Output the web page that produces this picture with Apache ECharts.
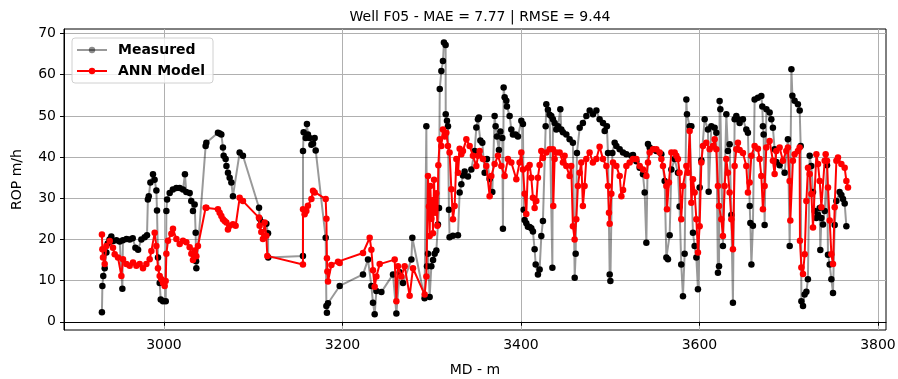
<!DOCTYPE html>
<html>
<head>
<meta charset="utf-8">
<script src="https://cdn.jsdelivr.net/npm/echarts@6/dist/echarts.min.js"></script>
<style>
  html, body { margin: 0; padding: 0; background: #fff; }
  #chart { width: 898px; height: 379px; }
</style>
</head>
<body>
<div id="chart"></div>
<script>
const mdMeasured = [
  2930.5, 2931, 2932, 2933.6, 2935.5, 2937, 2939, 2941, 2943, 2946.7, 2950.4, 2953.4, 2954, 2958, 2961.6, 2965, 2968, 2971, 2974.7, 2978.4,
  2981, 2982, 2983, 2984.8, 2987.7, 2989.5, 2991.5, 2992.2, 2993.3, 2995.2, 2996.4, 2998.9, 3002, 3002.7, 3003.5, 3006.4, 3010, 3013.9, 3017.6, 3021.3,
  3023.5, 3025, 3028.8, 3030.6, 3032.5, 3034.4, 3035.5, 3036, 3036.3, 3046.7, 3047.5, 3060.5, 3062.4, 3064.3, 3066.1, 3066.9, 3069.1, 3070, 3071.7, 3073.6,
  3075.5, 3077.3, 3084.8, 3088.5, 3106.5, 3107.2, 3109, 3114.7, 3116.6, 3116.8, 3155.7, 3155.8, 3156.5, 3158.8, 3160.2, 3161.3, 3163.2, 3165.2, 3167, 3168.8,
  3170, 3181.2, 3182, 3182.6, 3183.8, 3196.9, 3223, 3228.6, 3232.4, 3234.2, 3236.1, 3238, 3243.6, 3256.6, 3260.4, 3264.1, 3267.8, 3277.2, 3278.3, 3292,
  3294, 3294.7, 3295.8, 3297.7, 3299.6, 3301.5, 3303.3, 3305.2, 3307, 3308.2, 3309, 3310.8, 3312.6, 3313.7, 3315.6, 3315.7, 3317.1, 3318.2, 3319.3, 3320,
  3323.8, 3329.4, 3331.3, 3333.2, 3335, 3336.9, 3340.6, 3344.4, 3348.1, 3350, 3351.8, 3352.9, 3354.5, 3356.7, 3359.3, 3361.9, 3364.9, 3367.9, 3370.5, 3371.6,
  3373.1, 3375.3, 3376.9, 3379.1, 3379.8, 3380.6, 3381.7, 3383.6, 3384.3, 3387.3, 3389.2, 3391, 3394, 3396.6, 3400.4, 3402.2, 3403, 3404.1, 3406, 3407.8,
  3409.7, 3411.6, 3413.4, 3415.3, 3416.5, 3419, 3420.9, 3422.8, 3424.6, 3427.7, 3428.4, 3430.2, 3432.1, 3434, 3435.2, 3435.8, 3437.7, 3439.6, 3441.5, 3444.1,
  3445.2, 3447, 3450.8, 3454.5, 3458.2, 3460.2, 3461.3, 3462.7, 3465.8, 3469.4, 3473.3, 3477, 3480.7, 3484.5, 3488.1, 3491.9, 3493.8, 3496.3, 3497.5, 3499.4,
  3500.2, 3502.4, 3505, 3506.9, 3510.6, 3514.3, 3518.1, 3523.7, 3525.5, 3529.3, 3533, 3536.7, 3538.6, 3540.5, 3542.3, 3544.2, 3547.9, 3551.7, 3557.3, 3561,
  3562.9, 3564.7, 3566.6, 3568.5, 3572.2, 3575.9, 3577.7, 3579.6, 3581.5, 3583.4, 3585.3, 3586, 3589, 3590.9, 3592.7, 3594.6, 3596.5, 3598.3, 3600.2, 3602.1,
  3605.8, 3609.5, 3610.3, 3613.3, 3617, 3618.9, 3620.7, 3621.9, 3622.6, 3623.4, 3626.3, 3630.1, 3631.9, 3633.8, 3635.7, 3637.5, 3639.4, 3641.3, 3643.1, 3645,
  3648.7, 3652.5, 3654.3, 3656.3, 3657, 3658.2, 3659.9, 3661.8, 3665.5, 3669.3, 3670.4, 3671.1, 3671.9, 3673, 3675, 3678.6, 3680.5, 3682.3, 3684.2, 3686.1,
  3689.8, 3695.4, 3699.1, 3701.1, 3703, 3704.1, 3706.6, 3710.3, 3712.3, 3713.4, 3714.2, 3716, 3717.8, 3719.8, 3721.5, 3723.5, 3725.3, 3727.2, 3729.1, 3730.9,
  3732.8, 3734.7, 3735.4, 3736.6, 3738.4, 3740.3, 3742.9, 3744, 3745.9, 3747.8, 3749.6, 3751.5, 3753.4, 3757, 3759, 3760.8, 3762.7, 3764.6
];
const ropMeasured = [
  2.3, 8.7, 11.1, 13, 16.8, 19, 20, 20.7, 19.6, 19.8, 19.5, 8.0, 19.8, 20.1, 20, 20.3, 18, 17.5, 20, 20.5,
  21, 29.7, 30.5, 33.8, 35.8, 34.5, 31.9, 27, 15.6, 9.4, 5.4, 5.0, 5.0, 26.9, 29.7, 31.3, 32.1, 32.5, 32.5, 32.1,
  35.8, 31.5, 31.3, 29.3, 26.9, 28.5, 21.6, 14.7, 13, 42.7, 43.5, 45.9, 45.7, 45.5, 42.3, 40.3, 39.5, 37.8, 36.2, 35,
  33.8, 30.5, 41.1, 40.3, 27.7, 25, 24.2, 23.8, 21.5, 15.6, 16, 41.5, 46, 44.6, 48, 45.5, 44.6, 43, 43.3, 44.6,
  41.6, 20.4, 3.8, 2.2, 4.5, 8.7, 11.5, 15.1, 8.7, 4.6, 1.8, 7.5, 7.2, 11.5, 2.0, 12, 9.4, 15.1, 20.4, 5.7,
  47.5, 13.5, 16.5, 6, 13.5, 15, 16.5, 17.3, 23.6, 27.6, 56.5, 60.9, 63.3, 67.8, 67.2, 50.4, 48.8, 47.5, 27.2, 20.5,
  20.9, 21, 31.4, 33.4, 35.5, 36.5, 35.3, 37, 41.5, 47.2, 49.2, 49.6, 44, 43.5, 36.2, 39.5, 34.7, 31.5, 50, 47.5,
  45, 41.7, 46.2, 44.6, 22.6, 56.9, 54.5, 53.7, 52.3, 50, 46.7, 45.5, 45.5, 45, 48.8, 48, 27.2, 24.7, 23.9, 23.1,
  23, 22.7, 21.9, 17.6, 13.9, 11.5, 12.7, 20.8, 24.5, 47.5, 52.8, 51.5, 50.3, 50, 13.1, 49.2, 48.3, 46.7, 47.5, 51.6,
  46.7, 46, 45.5, 44.3, 43.5, 10.7, 16.5, 41, 47.1, 48.3, 50, 51.3, 50.4, 51.3, 49.2, 48.3, 46.3, 47.5, 41, 11.5,
  9.9, 41, 43.5, 42.7, 41.9, 41.1, 40.7, 40.3, 40.5, 39, 37.4, 35.8, 31.4, 19.2, 43.2, 42.3, 41.9, 41.5, 40.7, 34.2,
  15.6, 15.2, 21, 37, 39.5, 36.2, 28, 13.9, 6.2, 16.5, 54, 50.4, 47.5, 47.5, 21.6, 18.4, 15.6, 7.9, 32.6, 39.2,
  49.2, 46.7, 31.6, 47.5, 47.1, 45.9, 11.9, 13.5, 53.6, 51.6, 18.4, 50.4, 41.5, 43.1, 25.9, 4.6, 49.2, 50, 49.2, 48.3,
  49.2, 46.7, 45.9, 28.1, 24, 13.9, 23.3, 54, 54.4, 54.8, 52.3, 47.5, 45.5, 23.5, 51.6, 50.8, 49.2, 47.1, 41.9, 38.8,
  38, 36.2, 44.3, 18.4, 61.3, 54.9, 53.7, 52.8, 51.3, 42.7, 5, 3.8, 6.6, 7.3, 10.3, 40.3, 37.8, 31.5, 26.9, 25.2,
  26, 27.6, 17.4, 25.2, 23.6, 26.9, 38, 16.3, 13.9, 10.3, 7, 23.5, 29.3, 31.5, 30.8, 29.8, 28.7, 23.2
];

const mdModel = [
  2930.5, 2931, 2931.7, 2933.6, 2935.5, 2939.2, 2942.9, 2944.8, 2948.5, 2952.3, 2954.1, 2957.9, 2961.6, 2965.3, 2969.1, 2972.8, 2976.5, 2980.3, 2984, 2985.9,
  2989.6, 2991.5, 2993.3, 2995.2, 2997.1, 2998.9, 3000.8, 3001.9, 3002.7, 3004.5, 3008.3, 3010.1, 3013.9, 3017.6, 3021.3, 3025.1, 3028.8, 3030.7, 3032.5, 3034.4,
  3036.3, 3038.1, 3046.7, 3047.5, 3060.5, 3062.4, 3064.3, 3066.1, 3068, 3069.9, 3071.7, 3073.6, 3077.3, 3080.3, 3084.8, 3088.5, 3106.4, 3107.2, 3109.1, 3110.9,
  3112.8, 3114.7, 3115.8, 3155.7, 3155.8, 3157.6, 3159.5, 3161.3, 3165.2, 3167, 3168.8, 3181.2, 3182, 3182.6, 3183.1, 3183.8, 3187.6, 3195, 3196.9, 3223,
  3230.5, 3232.4, 3234.2, 3236.1, 3238, 3241.7, 3258.5, 3260.4, 3262.2, 3266, 3269.7, 3275.3, 3279, 3292.1, 3294, 3295.8, 3296.9, 3297.7, 3298.5, 3299.6,
  3300.7, 3301.4, 3302.6, 3303.7, 3305.2, 3306.3, 3307.4, 3309, 3310.8, 3312.6, 3314.5, 3316.4, 3318.2, 3320, 3322, 3323.8, 3325.7, 3327.6, 3329.5, 3331.3,
  3333.2, 3335, 3338.8, 3342.5, 3346.2, 3350, 3351.8, 3353.7, 3357.4, 3361.2, 3364.9, 3366.8, 3370.5, 3374.2, 3378, 3381.7, 3385.4, 3389.2, 3394.8, 3398.5,
  3400.4, 3402.2, 3404.1, 3406, 3407.8, 3409.7, 3411.6, 3413.4, 3415.3, 3417.2, 3419, 3420.9, 3422.8, 3424.6, 3428.4, 3432.1, 3435.8, 3436.2, 3437.7, 3439.6,
  3443.3, 3447, 3448.9, 3450.8, 3454.5, 3456.3, 3458.2, 3460.1, 3462, 3463.8, 3465.7, 3467.6, 3469.4, 3471.3, 3473.2, 3476.9, 3480.6, 3484.5, 3488.1, 3491.9,
  3495.7, 3497.5, 3498.6, 3499.4, 3501.3, 3503.1, 3506.9, 3510.6, 3512.5, 3514.4, 3518.1, 3521.8, 3525.5, 3529.3, 3533, 3536.7, 3540.5, 3542.3, 3544.2, 3547.9,
  3551.7, 3555.4, 3557.3, 3559.1, 3562.9, 3563.6, 3565.8, 3568.5, 3572.2, 3574.1, 3575.9, 3577.7, 3579.6, 3581.5, 3585.3, 3587.1, 3589, 3590.9, 3592.7, 3594.6,
  3596.5, 3598.3, 3600.2, 3602.1, 3603.9, 3607.6, 3611.4, 3615.1, 3617, 3618.9, 3620.7, 3621.9, 3624.5, 3626.3, 3628.2, 3630.1, 3631.9, 3633.8, 3635.7, 3637.5,
  3639.4, 3641.3, 3643.1, 3645, 3648.7, 3652.5, 3654.3, 3656.2, 3658.1, 3661.8, 3665.5, 3667.4, 3669.3, 3671.1, 3673, 3674.9, 3678.6, 3682.3, 3684.2, 3686.1,
  3689.8, 3693.5, 3697.3, 3699.1, 3701, 3701.8, 3704.7, 3706.6, 3710.3, 3712.2, 3712.6, 3714.2, 3716, 3717.9, 3719.8, 3721.6, 3723.5, 3725.4, 3727.2, 3731,
  3732.8, 3734.7, 3736.6, 3740.3, 3741.4, 3742.9, 3744, 3745.9, 3747.8, 3749.6, 3751.5, 3753.4, 3755.2, 3759, 3762.7, 3764.6, 3766.4
];
const ropModel = [
  21.2, 17.6, 15.6, 14, 18.4, 19.6, 18, 16.4, 15.6, 11.1, 15.2, 14, 13.6, 14.4, 13.6, 14, 13, 14, 15.2, 17.2,
  21.6, 18.4, 13, 11.1, 10.3, 9.4, 8.7, 9.9, 16.5, 19.7, 21.4, 22.6, 20.1, 18.9, 19.7, 19.3, 18.1, 16.5, 15, 17.3,
  15.9, 18.4, 27.7, 27.7, 27.3, 26.5, 25.7, 24.9, 24.5, 24.1, 22.4, 23.3, 23.7, 23.3, 30.1, 29.3, 25.3, 23.3, 21.8, 20.1,
  24.1, 20.9, 16, 13.9, 27.3, 26.1, 26.9, 28.2, 29.8, 31.8, 31.4, 29.8, 25, 15.4, 12.2, 9.8, 13.8, 14.6, 14.3, 16.7,
  20.4, 17.5, 12.5, 8.5, 11, 14, 15.1, 5, 13.5, 11, 13.5, 6.3, 13, 6.6, 11, 35.4, 28, 20.8, 33, 25,
  29.5, 21.5, 34.5, 26.5, 31.2, 23.3, 38, 44.3, 42.7, 46.7, 45, 45.9, 42.7, 41.1, 32.2, 24.9, 28.1, 39.5, 36.2, 42,
  40.7, 41.5, 44.3, 42.7, 40.3, 37.8, 40.3, 41.5, 39.5, 37.8, 30.5, 35.4, 38.3, 40.3, 37.8, 35.4, 39.5, 38.7, 34.6, 38.7,
  41.1, 37, 31.1, 26.2, 37.4, 38.1, 35, 30.1, 27.6, 29.3, 35, 38.1, 41.5, 39.8, 41.1, 41.9, 41.9, 28.1, 39.5, 41.1,
  41.1, 38.7, 40.3, 37.8, 35.4, 37.8, 23.2, 20, 24.9, 33, 36.2, 38.7, 28.1, 33, 39.5, 41.1, 38.7, 39.5, 42.5, 39.5,
  37.8, 33, 26.5, 23.8, 31.1, 38.7, 37.8, 35.4, 30.5, 32, 37.8, 38.7, 39.5, 39.5, 37.8, 37, 35.4, 38.7, 41.1, 41.9,
  41.9, 41.1, 39.5, 37.8, 33, 27.3, 33.8, 41.1, 41.1, 40.3, 39.5, 36.2, 24.9, 33, 37.8, 36.2, 46.3, 28.9, 34.6, 31.4,
  24.9, 16.8, 23.2, 38.7, 42.7, 43.5, 41.9, 42.7, 44.3, 41.9, 33, 28.1, 24.9, 20.8, 33, 39.5, 36.2, 31.4, 24.9, 17.6,
  37.8, 41.9, 43.5, 41.7, 41, 37.8, 31.4, 33.8, 40.3, 42.7, 42, 39.5, 35.4, 27.3, 33, 42.3, 43.9, 39.1, 35.9, 41.5,
  42.3, 39.1, 41.5, 42.3, 34.2, 24.6, 39.1, 40.7, 41.5, 42.3, 19.7, 13.2, 11.6, 16.4, 29.3, 37.4, 35.9, 31, 22.9, 40.7,
  38.3, 34.2, 27.8, 39.1, 40.7, 39.1, 32.6, 24.6, 16.4, 14, 27.8, 39.1, 39.9, 38.3, 37.4, 34.2, 32.6
];

const xTicks = [3000, 3200, 3400, 3600, 3800];
const yTicks = [0, 10, 20, 30, 40, 50, 60, 70];

const chart = echarts.init(document.getElementById('chart'), null, { renderer: 'canvas' });
const font = 'DejaVu Sans';

const option = {
  animation: false,
  textStyle: { fontFamily: font },
  title: {
    text: 'Well F05 - MAE = 7.77 | RMSE = 9.44',
    left: 475,
    textAlign: 'center',
    top: 5,
    textStyle: { fontFamily: font, fontSize: 14, fontWeight: 'normal', color: '#000' },
  },
  legend: {
    orient: 'vertical',
    left: 72,
    top: 38,
    padding: [5, 8, 5, 4],
    itemWidth: 30,
    itemHeight: 8,
    itemGap: 7,
    borderColor: '#d0d0d0',
    borderWidth: 1,
    borderRadius: 3,
    backgroundColor: 'rgba(255,255,255,0.8)',
    textStyle: { fontFamily: font, fontSize: 14, fontWeight: 'bold', color: '#000', padding: [0, 0, 0, 6] },
    data: [
      { name: 'Measured', itemStyle: { color: 'rgba(0,0,0,0.45)' } },
      { name: 'ANN Model' },
    ],
  },
  grid: {
    left: 64,
    right: 12,
    top: 29,
    bottom: 49,
    outerBoundsMode: 'none',
    containLabel: false,
    show: true,
    borderColor: '#000',
    borderWidth: 1,
    backgroundColor: 'transparent',
  },
  xAxis: {
    type: 'value',
    min: 2888,
    max: 3809,
    name: 'MD - m',
    nameLocation: 'middle',
    nameGap: 33,
    nameTextStyle: { fontFamily: font, fontSize: 14, color: '#000' },
    axisLine: { show: true, lineStyle: { color: '#000', width: 1 } },
    axisTick: { show: true, inside: false, length: 4, customValues: xTicks, lineStyle: { color: '#000' } },
    axisLabel: {
      fontFamily: font, fontSize: 14, color: '#000', margin: 8, customValues: xTicks,
      formatter: (v) => String(v),
    },
    splitLine: { show: true, customValues: xTicks, lineStyle: { color: '#b0b0b0', width: 1 } },
  },
  yAxis: {
    type: 'value',
    min: -2,
    max: 71.1,
    name: 'ROP m/h',
    nameLocation: 'middle',
    nameGap: 40,
    nameRotate: 90,
    nameTextStyle: { fontFamily: font, fontSize: 14, color: '#000' },
    axisLine: { show: true, lineStyle: { color: '#000', width: 1 } },
    axisTick: { show: true, inside: false, length: 4, customValues: yTicks, lineStyle: { color: '#000' } },
    axisLabel: {
      fontFamily: font, fontSize: 14, color: '#000', margin: 8, customValues: yTicks,
      formatter: (v) => String(v),
    },
    splitLine: { show: true, customValues: yTicks, lineStyle: { color: '#b0b0b0', width: 1 } },
  },
  series: [
    {
      name: 'Measured',
      type: 'line',
      data: mdMeasured.map((m, i) => [m, ropMeasured[i]]),
      symbol: 'circle',
      symbolSize: 6.5,
      showAllSymbol: true,
      lineStyle: { color: 'rgba(0,0,0,0.4)', width: 2 },
      itemStyle: { color: '#000' },
      z: 2,
    },
    {
      name: 'ANN Model',
      type: 'line',
      data: mdModel.map((m, i) => [m, ropModel[i]]),
      symbol: 'circle',
      symbolSize: 6.5,
      showAllSymbol: true,
      lineStyle: { color: '#ff0000', width: 2 },
      itemStyle: { color: '#ff0000' },
      z: 3,
    },
  ],
};

chart.setOption(option);
</script>
</body>
</html>
